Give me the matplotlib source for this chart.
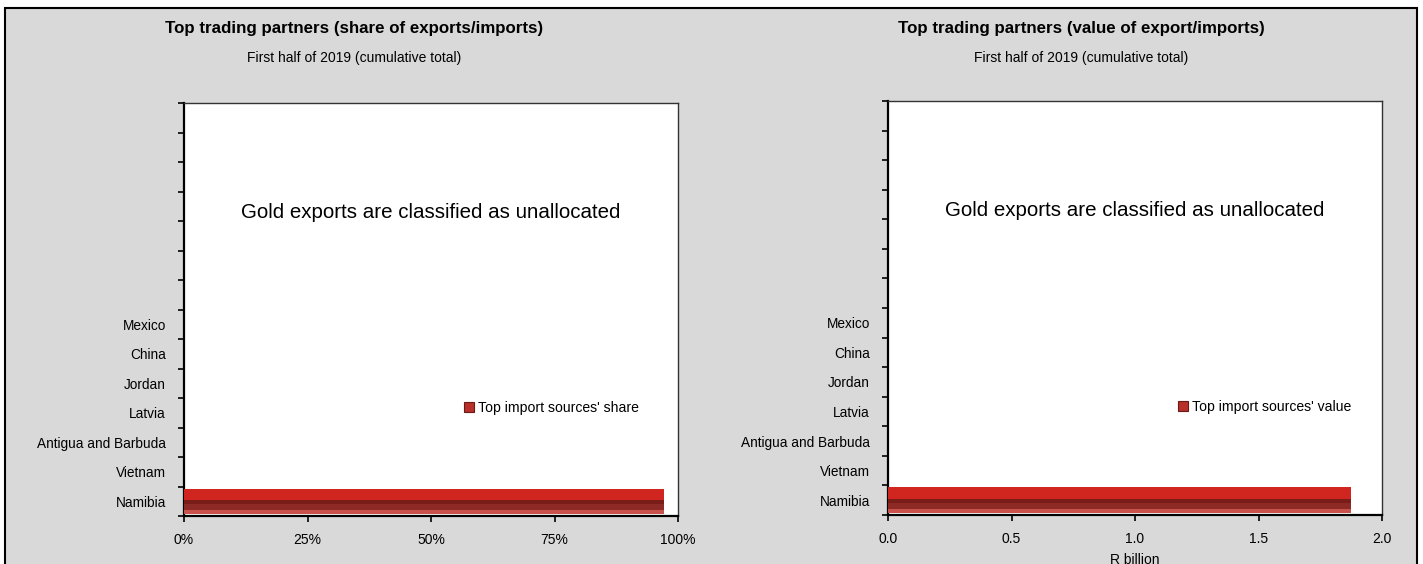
import matplotlib
matplotlib.use("Agg")
import matplotlib.pyplot as plt
from matplotlib.patches import Rectangle, Patch
from matplotlib.ticker import FixedLocator, NullFormatter, FixedFormatter

FONT = ['Liberation Sans Narrow', 'Liberation Sans', 'DejaVu Sans']
plt.rcParams['font.family'] = FONT

# ---- data ----
countries = ["Namibia", "Vietnam", "Antigua and Barbuda", "Latvia", "Jordan", "China", "Mexico",
             "", "", "", "", "", "", ""]
share_pct = [97.2, 0, 0, 0, 0, 0, 0, 0, 0, 0, 0, 0, 0, 0]
value_rbn = [1.875, 0, 0, 0, 0, 0, 0, 0, 0, 0, 0, 0, 0, 0]
share_ticks = [0, 25, 50, 75, 100]
share_ticklabels = ["0%", "25%", "50%", "75%", "100%"]
value_ticks = [0.0, 0.5, 1.0, 1.5, 2.0]
value_ticklabels = ["0.0", "0.5", "1.0", "1.5", "2.0"]
titles = ["Top trading partners (share of exports/imports)",
          "Top trading partners (value of export/imports)"]
subtitle = "First half of 2019 (cumulative total)"
note = "Gold exports are classified as unallocated"
legend_labels = ["Top import sources' share", "Top import sources' value"]
xlabel_right = "R billion"

W, H = 1423, 564
fig = plt.figure(figsize=(W / 100, H / 100), dpi=100)
fig.patch.set_facecolor('white')
# grey panel with black border
fig.patches.append(Rectangle((5 / W, -0.05), (1417 - 5) / W, 1 - 8 / H + 0.05,
                             transform=fig.transFigure, facecolor='#d9d9d9',
                             edgecolor='black', linewidth=1.5, zorder=-10))

def fx(px):
    return px / W

def fy(py):
    return 1 - py / H

axes_px = [(184, 103, 678, 516), (888, 101, 1382, 515)]
legend_px = [(464, 408), (1178, 407)]
datas = [share_pct, value_rbn]
xlims = [(0, 100), (0, 2.0)]
xticks = [share_ticks, value_ticks]
xtl = [share_ticklabels, value_ticklabels]
title_cx = [354, 1081]

n = len(countries)
ypos = list(range(n))

for i in range(2):
    x0, y0, x1, y1 = axes_px[i]
    ax = fig.add_axes([fx(x0), fy(y1), fx(x1 - x0), fy(y0) - fy(y1)])
    ax.set_facecolor('white')
    vals = datas[i]
    # bevelled bar built up in layers
    ax.barh(ypos, vals, height=0.86, color='#b8302a', edgecolor='none', zorder=2)
    ax.barh([p + 0.17 for p in ypos], vals, height=0.52, color='#d0261f', edgecolor='none', zorder=3)
    ax.barh([p - 0.02 for p in ypos], vals, height=0.12, color='#7a1c18', edgecolor='none', zorder=4)
    ax.barh([p - 0.22 for p in ypos], vals, height=0.28, color='#8e2a25', edgecolor='none', zorder=3)
    ax.barh([p - 0.36 for p in ypos], vals, height=0.12, color='#c8524b', edgecolor='none', zorder=4)
    ax.set_ylim(-0.5, n - 0.5)
    ax.set_xlim(*xlims[i])
    ax.yaxis.set_major_locator(FixedLocator([p - 0.5 for p in range(n + 1)]))
    ax.yaxis.set_major_formatter(NullFormatter())
    ax.yaxis.set_minor_locator(FixedLocator(ypos))
    ax.yaxis.set_minor_formatter(FixedFormatter(countries))
    ax.tick_params(axis='y', which='minor', length=0, pad=13, labelsize=9.8)
    ax.tick_params(axis='y', which='major', length=4, width=1.2, direction='out')
    ax.set_xticks(xticks[i])
    ax.set_xticklabels(xtl[i])
    ax.tick_params(axis='x', length=4, width=1.2, direction='out', labelsize=10, pad=8)
    for s in ['top', 'right']:
        ax.spines[s].set_color('#333333')
        ax.spines[s].set_linewidth(1.0)
    for s in ['left', 'bottom']:
        ax.spines[s].set_color('black')
        ax.spines[s].set_linewidth(1.6)
    ax.text(0.5, 0.735, note, transform=ax.transAxes, ha='center', va='center', fontsize=14.8)
    handle = Patch(facecolor='#b8302a', edgecolor='#6a1a16', linewidth=0.8)
    lx, ly = legend_px[i]
    ax.legend([handle], [legend_labels[i]], loc='center left',
              bbox_to_anchor=((lx - x0) / (x1 - x0), (y1 - ly) / (y1 - y0)),
              frameon=False, fontsize=10.1, handlelength=0.7, handleheight=0.7,
              handletextpad=0.3, borderpad=0, borderaxespad=0)
    fig.text(fx(title_cx[i]), fy(28), titles[i], ha='center', va='center',
             fontsize=12.2, fontweight='bold')
    fig.text(fx(title_cx[i]), fy(58), subtitle, ha='center', va='center', fontsize=10)
    if i == 1:
        ax.set_xlabel(xlabel_right, fontsize=10, labelpad=5)

fig.savefig('out.png', dpi=100, facecolor=fig.get_facecolor())
